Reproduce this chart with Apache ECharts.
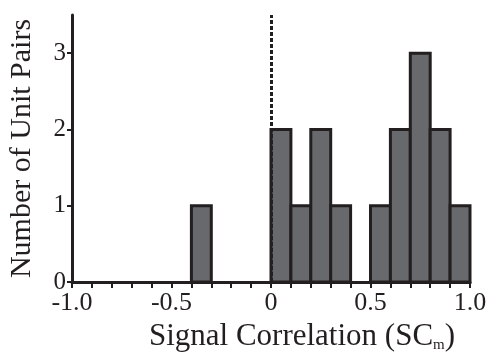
<!DOCTYPE html>
<html><head><meta charset="utf-8">
<script src="https://cdn.jsdelivr.net/npm/echarts@6/dist/echarts.min.js"></script>
<style>html,body{margin:0;padding:0;background:#fff}#c{width:492px;height:356px}</style>
</head><body><div id="c"></div>
<script>
const binStarts = [-0.4, 0.0, 0.1, 0.2, 0.3, 0.5, 0.6, 0.7, 0.8, 0.9];
const counts    = [1, 2, 1, 2, 1, 1, 2, 3, 2, 1];
const binWidth = 0.1;
const xTickLabels = {'-1': '-1.0', '-0.5': '-0.5', '0': '0', '0.5': '0.5', '1': '1.0'};
const yTickLabels = ['0', '1', '2', '3'];

const data = binStarts.map((s, i) => [s, s + binWidth, counts[i]]);
const font = 'Liberation Serif';
const ink = '#231f20';
const chart = echarts.init(document.getElementById('c'), null, {renderer: 'canvas'});
chart.setOption({
  animation: false,
  grid: {left: 72, right: 22, top: 15, bottom: 74, containLabel: false, outerBoundsMode: 'none'},
  xAxis: {
    type: 'value', min: -1, max: 1, interval: 0.1,
    axisLine: {onZero: false, lineStyle: {color: ink, width: 3}},
    axisTick: {show: true, inside: false, length: 6, lineStyle: {color: ink, width: 2}},
    splitLine: {show: false},
    axisLabel: {
      fontFamily: font, fontSize: 26, color: ink, margin: 8,
      formatter: v => { const k = String(Math.round(v * 10) / 10); return xTickLabels[k] !== undefined ? xTickLabels[k] : ''; }
    },
    name: '{a|Signal Correlation (SC}{s|m}{a|)}',
    nameLocation: 'middle', nameGap: 36,
    nameTextStyle: {padding: [0, 0, 0, 62], rich: {a: {fontFamily: font, fontSize: 31, color: ink}, s: {fontFamily: font, fontSize: 15, color: ink, verticalAlign: 'bottom', padding: [17, 0, 0, 0]}}}
  },
  yAxis: {
    type: 'value', min: 0, max: 3.5, interval: 1,
    axisLine: {show: true, onZero: false, lineStyle: {color: ink, width: 3}},
    axisTick: {show: true, length: 5, lineStyle: {color: ink, width: 2}},
    splitLine: {show: false},
    axisLabel: {fontFamily: font, fontSize: 25, color: ink, margin: 6, showMaxLabel: false,
      formatter: v => (Number.isInteger(v) ? yTickLabels[v] : '')},
    name: 'Number of Unit Pairs', nameLocation: 'middle', nameGap: 35,
    nameTextStyle: {fontFamily: font, fontSize: 30, color: ink}
  },
  series: [
    {
      type: 'line', data: [], silent: true, z: 1,
      markLine: {silent: true, symbol: 'none', label: {show: false}, animation: false,
        lineStyle: {color: ink, type: [4, 2], width: 3},
        data: [{xAxis: 0}]}
    },
    {
      type: 'custom', z: 3,
      renderItem: (params, api) => {
        const p0 = api.coord([api.value(0), api.value(2)]);
        const p1 = api.coord([api.value(1), 0]);
        return {type: 'rect', shape: {x: p0[0], y: p0[1], width: p1[0] - p0[0], height: p1[1] - p0[1]},
          style: {fill: '#68696c', stroke: ink, lineWidth: 3}};
      },
      encode: {x: [0, 1], y: 2},
      data: data
    }
  ]
});
</script></body></html>
